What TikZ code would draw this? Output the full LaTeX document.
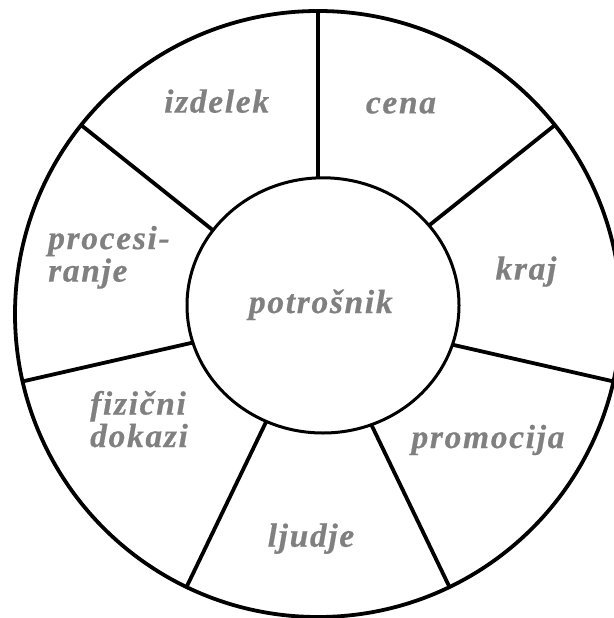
\documentclass[tikz,border=0pt]{standalone}
\usepackage{fontspec}
\newfontfamily\lblfont{Liberation Serif}[LetterSpace=5, FakeBold=0.5]
\usetikzlibrary{intersections}
\definecolor{lblgray}{gray}{0.5}
\begin{document}
\begin{tikzpicture}[x=1pt,y=-1pt,
  lbl/.style={text=lblgray, font=\lblfont\fontsize{33.5}{32.5}\selectfont\bfseries\itshape, inner sep=0pt},
  spoke/.style={line width=3.8pt},
  rim/.style={line width=3.8pt},
  hub/.style={line width=3pt}]
\useasboundingbox (0,0) rectangle (613,618);
\coordinate (O) at (318,314);
\coordinate (C) at (323,305.4);
\draw[rim] (O) circle [radius=303];
\draw[hub, name path global=inner] (C) ellipse [x radius=136, y radius=127.6];
\foreach \k in {0,...,6} {
  \pgfmathsetmacro\ang{-(90-\k*360/7)}
  \coordinate (out\k) at ([shift={(\ang:303)}]O);
  \path[name path=ray\k] (O) -- (out\k);
  \path[name intersections={of=inner and ray\k, by=in\k}];
  \draw[spoke] (out\k) -- (in\k);
}
\node[lbl, anchor=base] (cons) at (320.8,313) {potrošnik};
\node[lbl, anchor=base] (izdelek) at (216.7,112.6) {izdelek};
\node[lbl, anchor=base] (cena) at (401,113.4) {cena};
\node[lbl, anchor=base] (kraj) at (526,279.6) {kraj};
\node[lbl, anchor=base] (promocija) at (488,448) {promocija};
\node[lbl, anchor=base] (ljudje) at (311,546.7) {ljudje};
\node[lbl, anchor=base west, align=left] (proc) at (48,281.6) {procesi-\\ranje};
\node[lbl, anchor=base west, align=left] (fiz) at (90,447) {fizični\\dokazi};
\end{tikzpicture}
\end{document}
